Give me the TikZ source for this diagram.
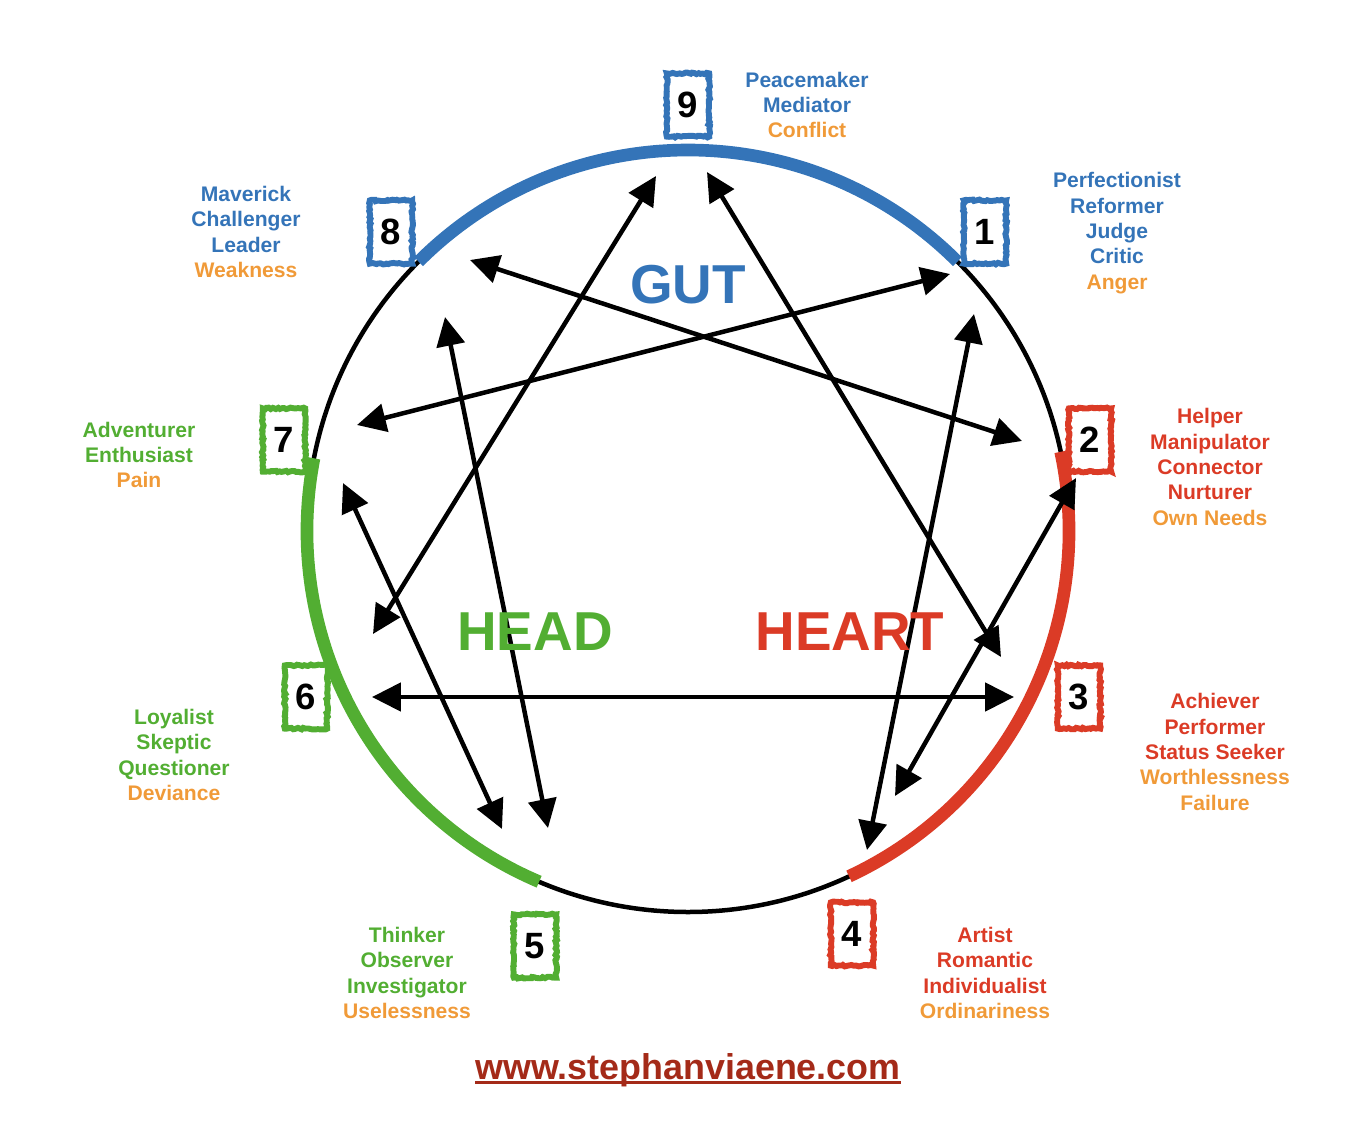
\documentclass[tikz,border=0pt]{standalone}
\usepackage{fontspec}
\setmainfont{Liberation Sans}
\usetikzlibrary{arrows.meta,decorations.pathmorphing}

\definecolor{gutblue}{HTML}{3474B8}
\definecolor{heartred}{HTML}{DB3B26}
\definecolor{headgreen}{HTML}{52AE32}
\definecolor{fearorange}{HTML}{F09A38}
\definecolor{urlred}{HTML}{A42A18}

\newcommand{\fear}[1]{\textcolor{fearorange}{#1}}
\newcommand{\urlunder}[1]{\setbox0\hbox{#1}\rlap{\rule[-3.4pt]{\wd0}{2pt}}\box0}

\begin{document}
\begin{tikzpicture}[
  x=0.025cm, y=-0.025cm,
  >={Triangle[length=7.2mm,width=7mm]},
  every node/.style={font=\bfseries},
  numbox/.style={rectangle, draw=#1, fill=white, line width=4.2pt, inner sep=0pt,
                 minimum width=1.06cm, minimum height=1.58cm,
                 font=\bfseries\fontsize{26}{30}\selectfont,
                 decorate, decoration={random steps, segment length=1.5pt, amplitude=0.6pt}},
  lbl/.style={align=center, text=#1, font=\bfseries\fontsize{15}{18}\selectfont},
  center/.style={anchor=base, text=#1, font=\bfseries\fontsize{39}{44}\selectfont},
  ring/.style={line width=3.2pt, black},
  centerarc/.style={line width=9pt, #1},
  link/.style={<->, line width=3.2pt, black},
]
\useasboundingbox (0,0) rectangle (1356,1146);

% ----------------------------------------------------------------- ring --
\coordinate (c) at (688,531);
\draw[ring] (c) circle[radius=381];
\draw[centerarc=gutblue]   (c) ++(-45:381)  arc[start angle=-45,  end angle=-135, radius=381];
\draw[centerarc=heartred]  (c) ++(65:381)   arc[start angle=65,   end angle=-12,  radius=381];
\draw[centerarc=headgreen] (c) ++(-169:381) arc[start angle=-169, end angle=-247, radius=381];

% ---------------------------------------------------------- arrow tips --
\coordinate (a96) at (656,176);  \coordinate (a69) at (373,634);
\coordinate (a93) at (707,172);  \coordinate (a39) at (1001,657);
\coordinate (a82) at (470,260);  \coordinate (a28) at (1022,441);
\coordinate (a17) at (950,274);  \coordinate (a71) at (357,425);
\coordinate (a14) at (974,314);  \coordinate (a41) at (867,850);
\coordinate (a85) at (445,317);  \coordinate (a58) at (548,828);
\coordinate (a75) at (343,483);  \coordinate (a57) at (502,829);
\coordinate (a63) at (372,697);  \coordinate (a36) at (1014,697);
\coordinate (a24) at (1076,478); \coordinate (a42) at (895,796);

% ---------------------------------------------------------------- lines --
\draw[link] (a96) -- (a69);
\draw[link] (a93) -- (a39);
\draw[link] (a63) -- (a36);
\draw[link] (a82) -- (a28);
\draw[link] (a17) -- (a71);
\draw[link] (a14) -- (a41);
\draw[link] (a85) -- (a58);
\draw[link] (a75) -- (a57);
\draw[link] (a24) -- (a42);

% -------------------------------------------------------------- centres --
\node[center=gutblue]   (gut)   at (688,303) {GUT};
\node[center=headgreen] (head)  at (535,650) {HEAD};
\node[center=heartred]  (heart) at (850,650) {HEART};

% -------------------------------------------------------------- numbers --
\node[numbox=gutblue]   (n9) at (688,105) {9};
\node[numbox=gutblue]   (n1) at (985,232) {1};
\node[numbox=heartred]  (n2) at (1090,440) {2};
\node[numbox=heartred]  (n3) at (1079,697) {3};
\node[numbox=heartred]  (n4) at (852,934) {4};
\node[numbox=headgreen] (n5) at (535,946) {5};
\node[numbox=headgreen] (n6) at (306,697) {6};
\node[numbox=headgreen] (n7) at (284,440) {7};
\node[numbox=gutblue]   (n8) at (391,232) {8};

% --------------------------------------------------------------- labels --
\node[lbl=gutblue]   (l9) at (807,105) {Peacemaker\\Mediator\\\fear{Conflict}};
\node[lbl=gutblue]   (l1) at (1117,233) {Perfectionist\\Reformer\\Judge\\Critic\\\fear{Anger}};
\node[lbl=heartred]  (l2) at (1210,467) {Helper\\Manipulator\\Connector\\Nurturer\\\fear{Own Needs}};
\node[lbl=heartred]  (l3) at (1215,752) {Achiever\\Performer\\Status Seeker\\\fear{Worthlessness}\\\fear{Failure}};
\node[lbl=heartred]  (l4) at (985,973) {Artist\\Romantic\\Individualist\\\fear{Ordinariness}};
\node[lbl=headgreen] (l5) at (407,973) {Thinker\\Observer\\Investigator\\\fear{Uselessness}};
\node[lbl=headgreen] (l6) at (174,755) {Loyalist\\Skeptic\\Questioner\\\fear{Deviance}};
\node[lbl=headgreen] (l7) at (139,455) {Adventurer\\Enthusiast\\\fear{Pain}};
\node[lbl=gutblue]   (l8) at (246,232) {Maverick\\Challenger\\Leader\\\fear{Weakness}};

% ------------------------------------------------------------------ url --
\node[anchor=base, text=urlred, font=\bfseries\fontsize{25.5}{30}\selectfont] (url) at (688,1079)
  {\urlunder{www.stephanviaene.com}};

\end{tikzpicture}
\end{document}
